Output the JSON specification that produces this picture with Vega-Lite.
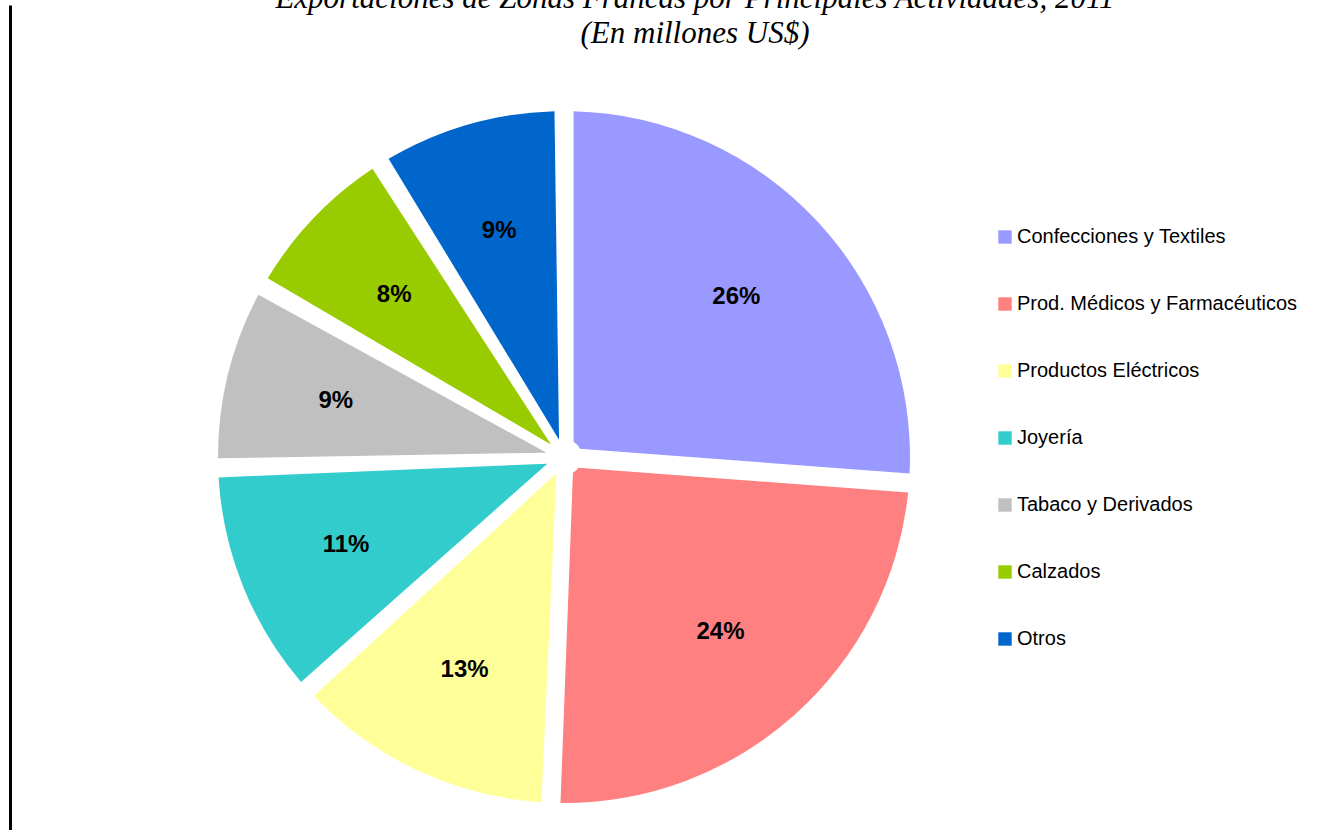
{
  "$schema": "https://vega.github.io/schema/vega-lite/v6.json",
  "width": 1108,
  "height": 904,
  "autosize": {"type": "none"},
  "padding": {"left": 10, "top": 5, "right": 201, "bottom": 0},
  "background": "white",
  "title": {
    "text": ["Exportaciones de Zonas Francas por Principales Actividades, 2011", "(En millones US$)"],
    "font": "Liberation Serif",
    "fontStyle": "italic",
    "fontWeight": "normal",
    "fontSize": 31,
    "lineHeight": 35,
    "color": "black",
    "anchor": "middle",
    "frame": "group",
    "dx": 131,
    "offset": -45
  },
  "config": {"view": {"stroke": null}},
  "data": {
    "values": [
      {"actividad": "Confecciones y Textiles", "participacion": 0.262, "orden": 1},
      {"actividad": "Prod. Médicos y Farmacéuticos", "participacion": 0.244, "orden": 2},
      {"actividad": "Productos Eléctricos", "participacion": 0.127, "orden": 3},
      {"actividad": "Joyería", "participacion": 0.112, "orden": 4},
      {"actividad": "Tabaco y Derivados", "participacion": 0.087, "orden": 5},
      {"actividad": "Calzados", "participacion": 0.079, "orden": 6},
      {"actividad": "Otros", "participacion": 0.089, "orden": 7}
    ]
  },
  "layer": [
    {
      "mark": {"type": "arc", "outerRadius": 346, "innerRadius": 18, "padAngle": 0.055},
      "encoding": {
        "theta": {"field": "participacion", "type": "quantitative", "stack": true},
        "order": {"field": "orden", "type": "quantitative"},
        "color": {
          "field": "actividad",
          "type": "nominal",
          "sort": ["Confecciones y Textiles", "Prod. Médicos y Farmacéuticos", "Productos Eléctricos", "Joyería", "Tabaco y Derivados", "Calzados", "Otros"],
          "scale": {
            "domain": ["Confecciones y Textiles", "Prod. Médicos y Farmacéuticos", "Productos Eléctricos", "Joyería", "Tabaco y Derivados", "Calzados", "Otros"],
            "range": ["#9999FF", "#FF8080", "#FFFF99", "#33CCCC", "#C0C0C0", "#99CC00", "#0066CC"]
          },
          "legend": {
            "orient": "none",
            "legendX": 985,
            "legendY": 222,
            "title": null,
            "symbolType": "square",
            "symbolSize": 180,
            "symbolStrokeWidth": 0,
            "labelFontSize": 20,
            "labelFont": "Liberation Sans",
            "labelColor": "black",
            "labelOffset": 2,
            "rowPadding": 47,
            "labelLimit": 400
          }
        }
      }
    },
    {
      "mark": {"type": "text", "radius": 235, "font": "Liberation Sans", "fontWeight": "bold", "fontSize": 24, "color": "black"},
      "encoding": {
        "theta": {"field": "participacion", "type": "quantitative", "stack": true},
        "order": {"field": "orden", "type": "quantitative"},
        "text": {"field": "participacion", "type": "quantitative", "format": ".0%"}
      }
    },
    {
      "mark": {"type": "rule", "opacity": 0},
      "encoding": {
        "y": {
          "field": "participacion",
          "type": "quantitative",
          "axis": {"orient": "left", "domain": true, "domainColor": "black", "domainWidth": 3, "ticks": false, "labels": false, "grid": false, "title": null}
        }
      }
    }
  ]
}
